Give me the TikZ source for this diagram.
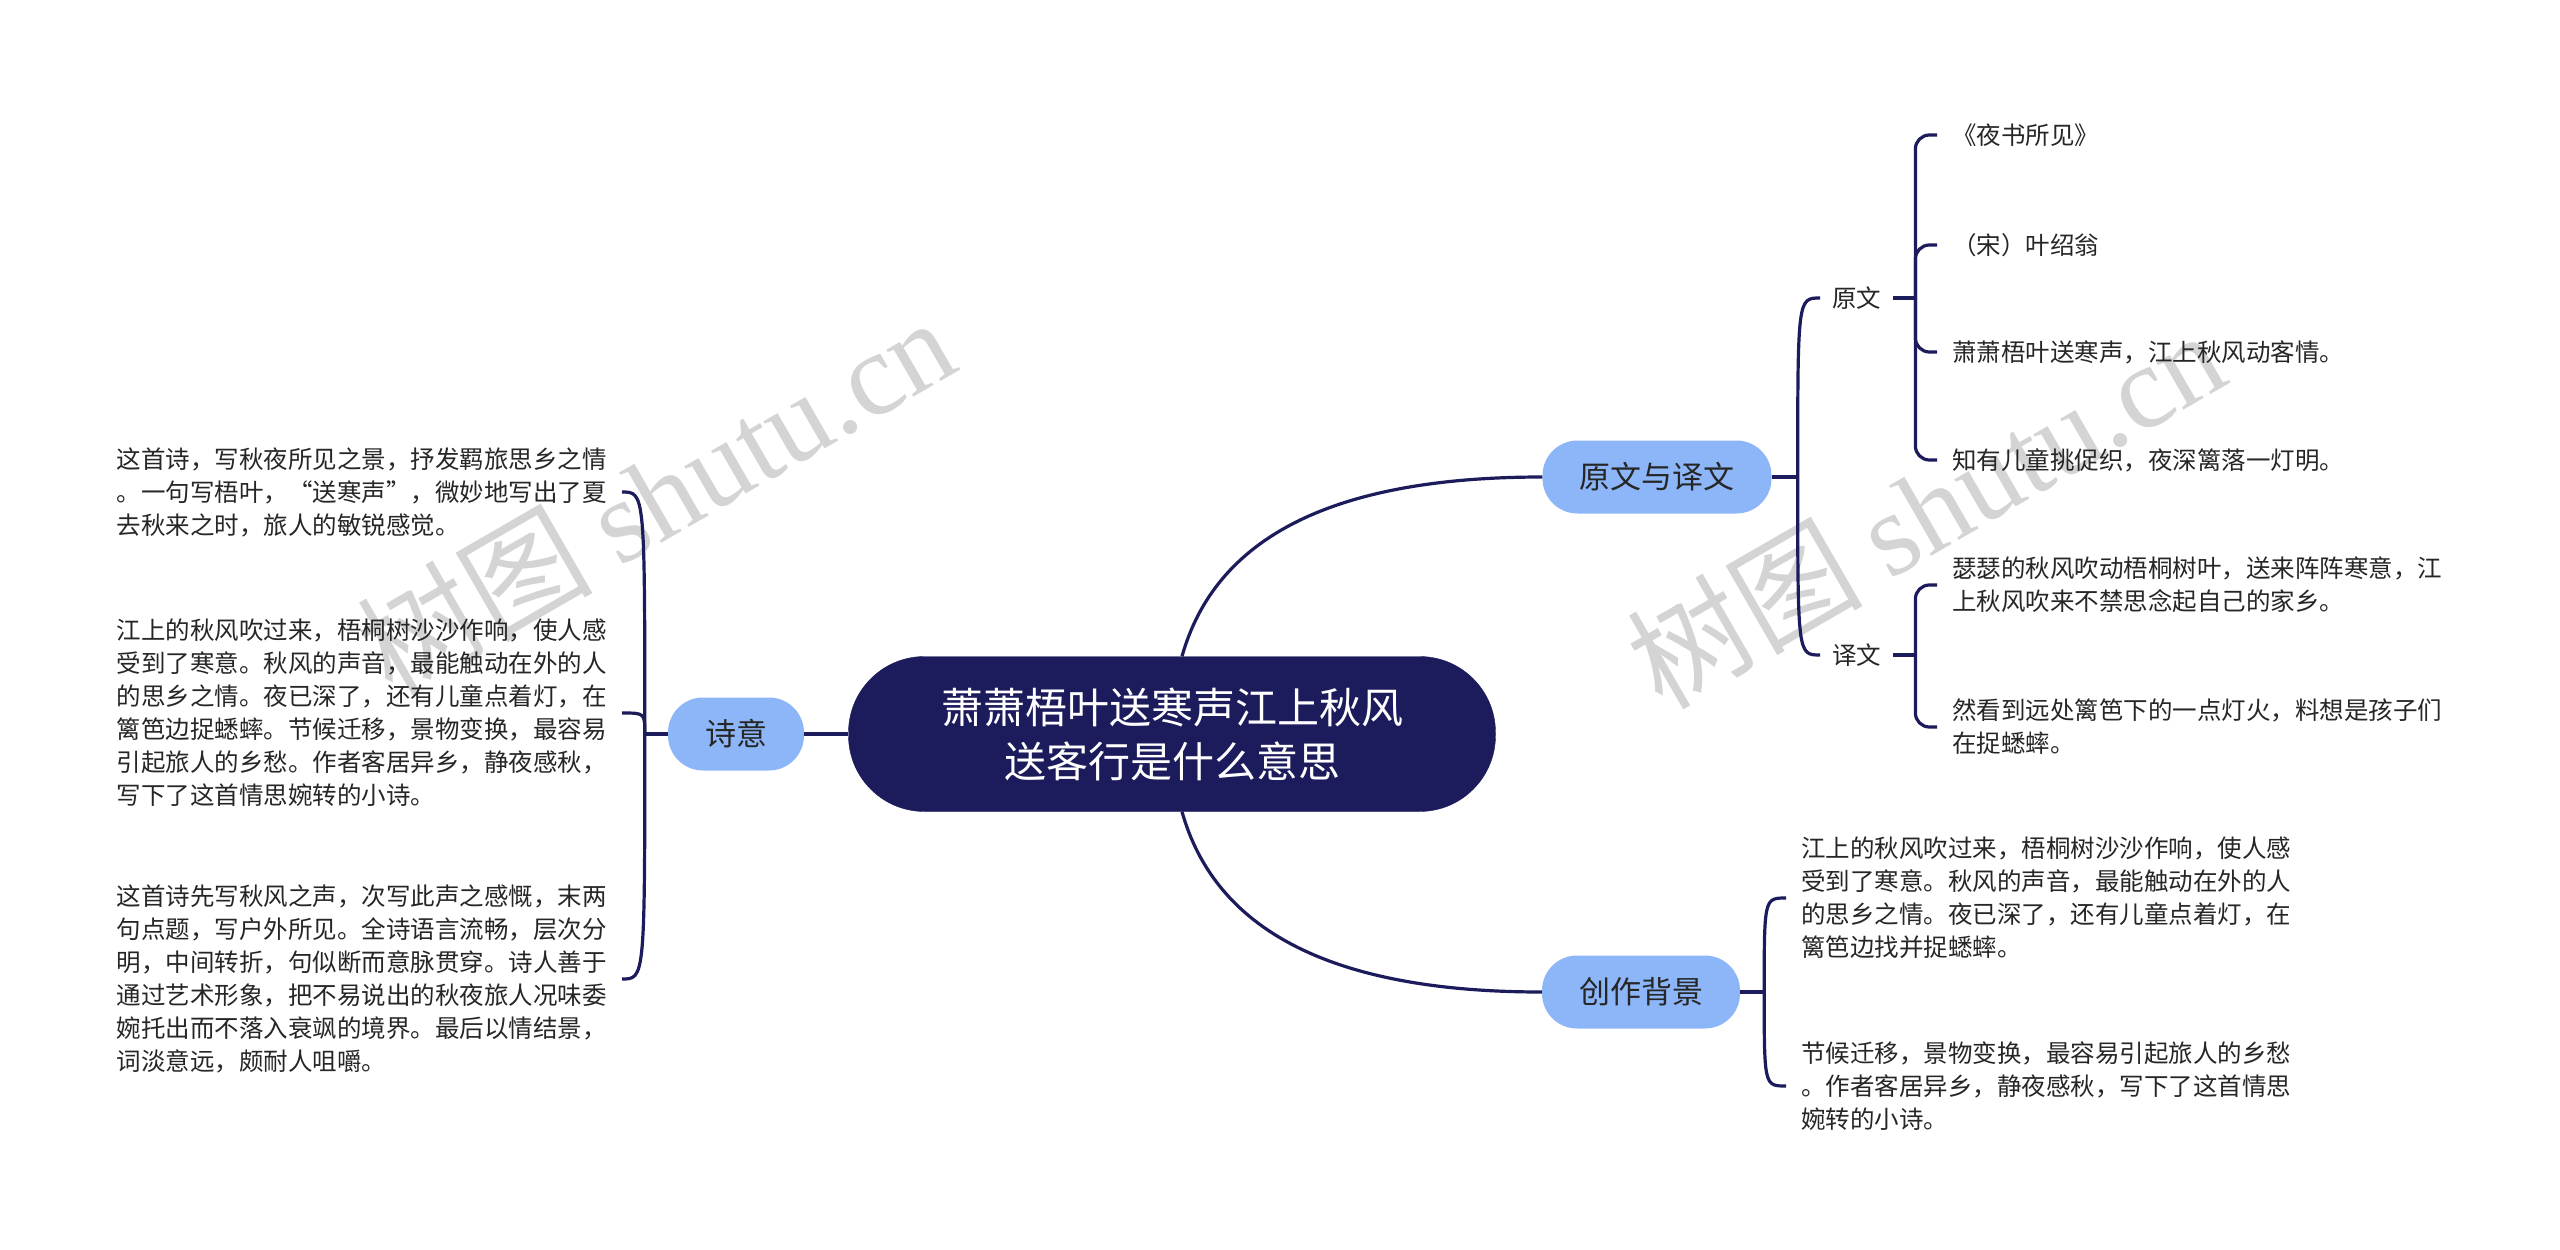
\documentclass[tikz,border=0pt]{standalone}
\usepackage{fontspec}
\setmainfont{Noto Sans CJK SC}
\newfontfamily\wmserif{Liberation Serif}
\definecolor{navy}{HTML}{1C1B5C}
\definecolor{branchblue}{HTML}{8DB6F8}
\definecolor{txt}{HTML}{262626}
\definecolor{wmgray}{HTML}{D4D4D4}
\begin{document}
\begin{tikzpicture}[x=1pt,y=-1pt,
  conn/.style={draw=navy,line width=3.2pt},
  desc/.style={font=\fontsize{24.5}{33}\selectfont,text=txt,align=left,inner xsep=15pt,inner ysep=0pt},
  lab/.style={font=\fontsize{24.5}{30}\selectfont,text=txt,inner xsep=12pt,inner ysep=4pt},
  branch/.style={fill=branchblue,rounded corners=35pt,minimum height=73pt,text=txt,font=\fontsize{31}{36}\selectfont,inner xsep=37pt},
  root/.style={fill=navy,draw=navy,text=white,rounded corners=76pt,minimum width=647pt,minimum height=155pt,align=center,font=\fontsize{42}{54}\selectfont},
  wmark/.style={text=wmgray,font=\fontsize{118}{118}\selectfont,inner sep=0pt}
]
\useasboundingbox (0,0) rectangle (2560,1250);
\fill[white] (0,0) rectangle (2560,1250);

% watermarks
\node[wmark,rotate=30] (wm1) at (655,495) {树图 {\wmserif shutu.cn}};
\node[wmark,rotate=30] (wm2) at (1925,508) {树图 {\wmserif shutu.cn}};

% main nodes
\node[root] (root) at (1172,734) {萧萧梧叶送寒声江上秋风\\送客行是什么意思};
\node[branch] (b1) at (1657,477) {原文与译文};
\node[branch] (b2) at (1641,992) {创作背景};
\node[branch] (b3) at (736,734) {诗意};

\draw[conn] ([xshift=10pt]root.north) .. controls +(33,-117) and +(-213,0) .. (b1.west);
\draw[conn] ([xshift=10pt]root.south) .. controls +(33,117) and +(-213,0) .. (b2.west);
\draw[conn] (root.west) -- (b3.east);

% 原文与译文
\coordinate (j1) at ([xshift=26pt]b1.east);
\draw[conn] (b1.east) -- (j1);
\node[lab,anchor=west] (yw) at (1820,298) {原文};
\node[lab,anchor=west] (yy) at (1820,655) {译文};
\draw[conn] (j1) .. controls (j1 |- yw.west) .. (yw.west);
\draw[conn] (j1) .. controls (j1 |- yy.west) .. (yy.west);

\coordinate (j2) at ([xshift=22pt]yw.east);
\draw[conn] (yw.east) -- (j2);
\node[desc,anchor=west] (o1) at (1937,135) {《夜书所见》};
\node[desc,anchor=west] (o2) at (1937,245) {（宋）叶绍翁};
\node[desc,anchor=west] (o3) at (1937,352) {萧萧梧叶送寒声，江上秋风动客情。};
\node[desc,anchor=west] (o4) at (1937,460) {知有儿童挑促织，夜深篱落一灯明。};
\foreach \n in {o1,o2,o3,o4}{
  \draw[conn,rounded corners=14pt] (j2) |- (\n.west);
}

\coordinate (j3) at ([xshift=22pt]yy.east);
\draw[conn] (yy.east) -- (j3);
\node[desc,anchor=west] (t1) at (1937,585) {瑟瑟的秋风吹动梧桐树叶，送来阵阵寒意，江\\上秋风吹来不禁思念起自己的家乡。};
\node[desc,anchor=west] (t2) at (1937,727) {然看到远处篱笆下的一点灯火，料想是孩子们\\在捉蟋蟀。};
\foreach \n in {t1,t2}{
  \draw[conn,rounded corners=14pt] (j3) |- (\n.west);
}

% 创作背景
\coordinate (j4) at ([xshift=24pt]b2.east);
\draw[conn] (b2.east) -- (j4);
\node[desc,anchor=west] (c1) at (1786,898) {江上的秋风吹过来，梧桐树沙沙作响，使人感\\受到了寒意。秋风的声音，最能触动在外的人\\的思乡之情。夜已深了，还有儿童点着灯，在\\篱笆边找并捉蟋蟀。};
\node[desc,anchor=west] (c2) at (1786,1086) {节候迁移，景物变换，最容易引起旅人的乡愁\\。作者客居异乡，静夜感秋，写下了这首情思\\婉转的小诗。};
\foreach \n in {c1,c2}{
  \draw[conn] (j4) .. controls (j4 |- \n.west) .. (\n.west);
}

% 诗意
\coordinate (j5) at ([xshift=-23pt]b3.west);
\draw[conn] (b3.west) -- (j5);
\node[desc,anchor=east] (s1) at (622,492) {这首诗，写秋夜所见之景，抒发羁旅思乡之情\\。一句写梧叶，“送寒声”，微妙地写出了夏\\去秋来之时，旅人的敏锐感觉。};
\node[desc,anchor=east] (s2) at (622,713) {江上的秋风吹过来，梧桐树沙沙作响，使人感\\受到了寒意。秋风的声音，最能触动在外的人\\的思乡之情。夜已深了，还有儿童点着灯，在\\篱笆边捉蟋蟀。节候迁移，景物变换，最容易\\引起旅人的乡愁。作者客居异乡，静夜感秋，\\写下了这首情思婉转的小诗。};
\node[desc,anchor=east] (s3) at (622,979) {这首诗先写秋风之声，次写此声之感慨，末两\\句点题，写户外所见。全诗语言流畅，层次分\\明，中间转折，句似断而意脉贯穿。诗人善于\\通过艺术形象，把不易说出的秋夜旅人况味委\\婉托出而不落入衰飒的境界。最后以情结景，\\词淡意远，颇耐人咀嚼。};
\foreach \n in {s1,s2,s3}{
  \draw[conn] (j5) .. controls (j5 |- \n.east) .. (\n.east);
}
\end{tikzpicture}
\end{document}
